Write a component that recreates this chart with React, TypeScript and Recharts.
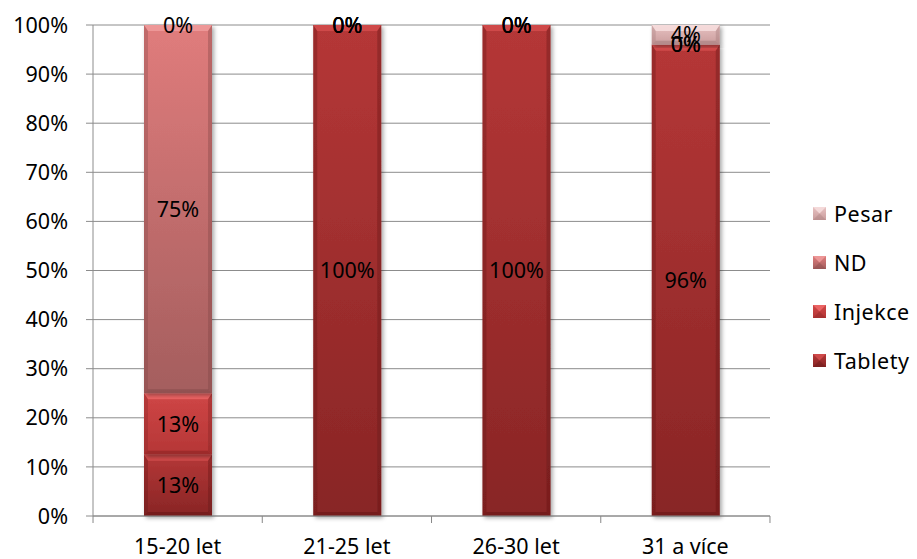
import React from 'react';
import { BarChart, Bar, XAxis, YAxis, CartesianGrid, LabelList } from 'recharts';

const categories = ['15-20 let', '21-25 let', '26-30 let', '31 a více'];
const tablety = [12.5, 100, 100, 96];
const injekce = [12.5, 0, 0, 0];
const nd = [75, 0, 0, 0];
const pesar = [0, 0, 0, 4];
const yTicks = [0, 10, 20, 30, 40, 50, 60, 70, 80, 90, 100];
const seriesNames = ['Tablety', 'Injekce', 'ND', 'Pesar'];

const data = categories.map((c, i) => ({
  cat: c,
  Tablety: tablety[i],
  Injekce: injekce[i],
  ND: nd[i],
  Pesar: pesar[i],
}));

const FONT = '"Noto Sans", "Open Sans", sans-serif';
const FS = 21.5;

const palette: Record<string, { top: string; bottom: string; light: string; dark: string }> = {
  Tablety: { top: '#b53737', bottom: '#882525', light: '#d44e4e', dark: '#5e1515' },
  Injekce: { top: '#cf4646', bottom: '#b53636', light: '#f06a6a', dark: '#7e2020' },
  ND: { top: '#e07c7c', bottom: '#a45e5e', light: '#f09c9c', dark: '#7a4242' },
  Pesar: { top: '#e8c2c2', bottom: '#c99c9c', light: '#f7dede', dark: '#9c7474' },
};

const makeShape = (name: string) => (props: any) => {
  const { x, y, width, height } = props;
  if (!height || height <= 0.5) return <g />;
  const c = palette[name];
  const t = Math.min(6, height / 3);
  const s = Math.min(4, width / 6);
  const w = width;
  const h = height;
  return (
    <g filter="url(#barShadow)">
      <rect x={x} y={y} width={w} height={h} fill={`url(#grad-${name})`} />
      <polygon
        points={`${x},${y} ${x + w},${y} ${x + w - s},${y + t} ${x + s},${y + t}`}
        fill={c.light}
        opacity={0.85}
      />
      <polygon
        points={`${x},${y} ${x + s},${y + t} ${x + s},${y + h - s} ${x},${y + h}`}
        fill={c.dark}
        opacity={0.3}
      />
      <polygon
        points={`${x + w},${y} ${x + w - s},${y + t} ${x + w - s},${y + h - s} ${x + w},${y + h}`}
        fill={c.dark}
        opacity={0.35}
      />
      <polygon
        points={`${x},${y + h} ${x + s},${y + h - s} ${x + w - s},${y + h - s} ${x + w},${y + h}`}
        fill={c.dark}
        opacity={0.45}
      />
    </g>
  );
};

const BAND_HALF = 84.6;

const XTick = (props: any) => {
  const { x, payload, index, visibleTicksCount } = props;
  const axisY = 516;
  const last = index === (visibleTicksCount ?? 4) - 1;
  return (
    <g>
      <line x1={x - BAND_HALF} x2={x - BAND_HALF} y1={axisY} y2={axisY + 7} stroke="#888" />
      {last && <line x1={x + BAND_HALF} x2={x + BAND_HALF} y1={axisY} y2={axisY + 7} stroke="#888" />}
      <text x={x} y={548} textAnchor="middle" dominantBaseline="middle" fontFamily={FONT} fontSize={FS} fill="#000">
        {payload.value}
      </text>
    </g>
  );
};

const LegendBox = () => {
  const items = [...seriesNames].reverse();
  return (
    <div
      style={{
        position: 'absolute',
        left: 813,
        top: 189,
        width: 104,
        fontFamily: FONT,
        fontSize: FS,
        color: '#000',
        lineHeight: 1,
        letterSpacing: 0.5,
      }}
    >
      {items.map((n) => (
        <div key={n} style={{ height: 49, display: 'flex', alignItems: 'center' }}>
          <svg width={13} height={13} style={{ marginRight: 8, flex: 'none' }}>
            <defs>
              <linearGradient id={`lgrad-${n}`} x1="0" y1="0" x2="0" y2="1">
                <stop offset="0%" stopColor={palette[n].top} />
                <stop offset="100%" stopColor={palette[n].bottom} />
              </linearGradient>
            </defs>
            <rect x={0} y={0} width={13} height={13} fill={`url(#lgrad-${n})`} />
            <polygon points="0,0 13,0 6.5,6.5" fill={palette[n].light} opacity={0.85} />
            <polygon points="0,13 13,13 6.5,6.5" fill={palette[n].dark} opacity={0.3} />
          </svg>
          <span>{n}</span>
        </div>
      ))}
    </div>
  );
};

export default function App() {
  return (
    <div style={{ position: 'absolute', left: 0, top: 0, width: 917, height: 559, background: '#fff' }}>
      <BarChart
        width={917}
        height={559}
        data={data}
        margin={{ top: 25, right: 147, bottom: 0, left: 0 }}
      >
        <defs>
          {seriesNames.map((n) => (
            <linearGradient key={n} id={`grad-${n}`} x1="0" y1="0" x2="0" y2="1">
              <stop offset="0%" stopColor={palette[n].top} />
              <stop offset="100%" stopColor={palette[n].bottom} />
            </linearGradient>
          ))}
          <filter id="barShadow" x="-20%" y="-5%" width="150%" height="120%">
            <feDropShadow dx="2" dy="2" stdDeviation="2" floodColor="#000" floodOpacity="0.35" />
          </filter>
        </defs>
        <CartesianGrid vertical={false} stroke="#8c8c8c" />
        <XAxis
          dataKey="cat"
          height={43}
          tickLine={false}
          axisLine={{ stroke: '#8c8c8c' }}
          tick={<XTick />}
          interval={0}
        />
        <YAxis
          width={93}
          domain={[0, 100]}
          ticks={yTicks}
          tickFormatter={(v: number) => `${v}%`}
          tick={{ fontFamily: FONT, fontSize: FS, fill: '#000' }}
          tickLine={{ stroke: '#8c8c8c' }}
          tickSize={7}
          tickMargin={18}
          axisLine={{ stroke: '#8c8c8c' }}
          interval={0}
        />
        {seriesNames.map((n) => (
          <Bar
            key={n}
            dataKey={n}
            stackId="a"
            barSize={68}
            fill={palette[n].top}
            shape={makeShape(n)}
            isAnimationActive={false}
          >
            <LabelList
              dataKey={n}
              position="center"
              formatter={(v: any) => `${Math.round(Number(v))}%`}
              style={{ fontFamily: FONT, fontSize: FS, fill: '#000' }}
            />
          </Bar>
        ))}
      </BarChart>
      <LegendBox />
    </div>
  );
}
